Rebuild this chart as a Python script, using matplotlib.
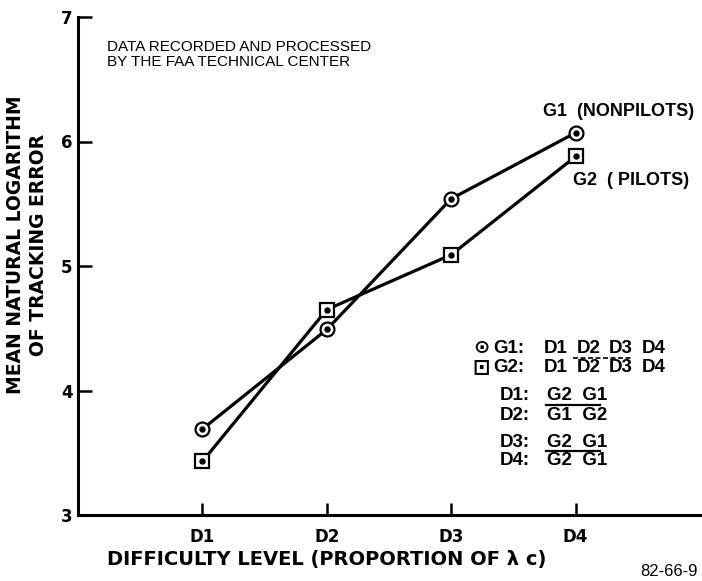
import matplotlib
matplotlib.use("Agg")
import matplotlib.pyplot as plt

# values
levels = ["D1", "D2", "D3", "D4"]
level_pos = [1, 2, 3, 4]
g1_nonpilots = [3.69, 4.49, 5.54, 6.07]
g2_pilots = [3.43, 4.65, 5.09, 5.88]
y_ticks = [3, 4, 5, 6, 7]

WIDE = ["DejaVu Sans"]
NARROW = ["Liberation Sans", "DejaVu Sans"]
plt.rcParams["font.family"] = WIDE
plt.rcParams["font.weight"] = "bold"

fig = plt.figure(figsize=(7.02, 5.81), dpi=100)
ax = fig.add_axes([78 / 702, 1 - 515 / 581, 622 / 702, 498 / 581])

mk = dict(color="black", lw=2.3, markersize=10, markerfacecolor="white",
          markeredgecolor="black", markeredgewidth=1.6)
ax.plot(level_pos, g1_nonpilots, marker="o", **mk)
ax.plot(level_pos, g2_pilots, marker="s", **mk)
ax.plot(level_pos, g1_nonpilots, ls="none", marker="o", markersize=3.6, color="black")
ax.plot(level_pos, g2_pilots, ls="none", marker="o", markersize=3.6, color="black")

ax.set_xlim(0, 5)
ax.set_ylim(3, 7)
ax.set_xticks(level_pos)
ax.set_xticklabels(levels)
ax.set_yticks(y_ticks)
for s in ["top", "right"]:
    ax.spines[s].set_visible(False)
for s in ["left", "bottom"]:
    ax.spines[s].set_linewidth(2.2)
ax.tick_params(axis="both", direction="in", width=1.8, labelsize=12)
ax.tick_params(axis="y", length=10, pad=4)
ax.tick_params(axis="x", length=9, pad=9)

ax.set_xlabel("DIFFICULTY LEVEL (PROPORTION OF λ c)", fontsize=14, fontweight="bold")
ax.xaxis.set_label_coords(0.40, -0.09)
ax.xaxis.label.set_va("center")
fig.text(27 / 702, 1 - 245 / 581, "MEAN NATURAL LOGARITHM\nOF TRACKING ERROR",
         rotation=90, ha="center", va="center", multialignment="center",
         fontsize=13.5, fontweight="bold", linespacing=1.25)

ax.text(0.23, 6.70, "DATA RECORDED AND PROCESSED\nBY THE FAA TECHNICAL CENTER",
        family=NARROW, fontweight="normal", fontsize=11, va="center", linespacing=1.12)

ax.text(3.74, 6.24, "G1  (NONPILOTS)", family=NARROW, fontsize=13, va="center")
ax.text(3.98, 5.69, "G2  ( PILOTS)", family=NARROW, fontsize=13, va="center")

# significance key
ax.text(3.24, 4.345, "⊙", family=["DejaVu Sans"], fontsize=14, ha="center", va="center")
ax.text(3.24, 4.177, "⊡", family=["DejaVu Sans"], fontsize=15, ha="center", va="center")
ax.text(3.34, 4.341, "G1:", family=NARROW, fontsize=13.5, va="center")
ax.text(3.34, 4.181, "G2:", family=NARROW, fontsize=13.5, va="center")
for i, lv in enumerate(levels):
    ax.text(3.84 + i * 0.263, 4.341, lv, family=NARROW, fontsize=13.5, ha="center", va="center")
    ax.text(3.84 + i * 0.263, 4.181, lv, family=NARROW, fontsize=13.5, ha="center", va="center")
ax.plot([3.98, 4.46], [4.262, 4.262], color="black", lw=1.2, ls=(0, (3, 1.5)))

key_rows = [("D1:", "G2  G1", 3.956), ("D2:", "G1  G2", 3.803),
            ("D3:", "G2  G1", 3.586), ("D4:", "G2  G1", 3.434)]
for lab, order, yy in key_rows:
    ax.text(3.39, yy, lab, family=NARROW, fontsize=13.5, va="center")
    ax.text(3.77, yy, order, family=NARROW, fontsize=13.5, va="center")
ax.plot([3.765, 4.20], [3.880, 3.880], color="black", lw=1.6)
ax.plot([3.765, 4.20], [3.512, 3.512], color="black", lw=1.6)

fig.text(640 / 702, 1 - 572 / 581, "82-66-9", family=NARROW, fontweight="normal",
         fontsize=12, va="center")

fig.savefig("out.png", dpi=100)
